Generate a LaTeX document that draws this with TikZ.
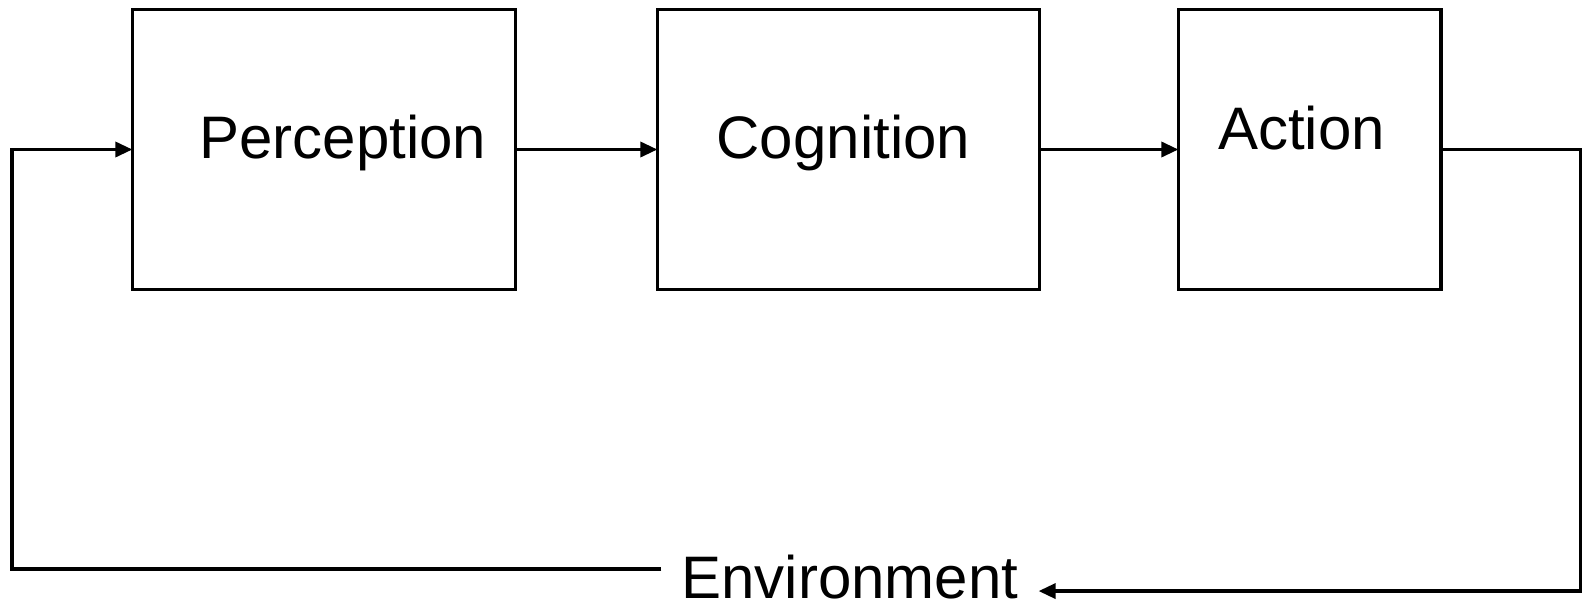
\documentclass[tikz,border=0pt]{standalone}
\usepackage{fontspec}
\setmainfont{Liberation Sans}
\usetikzlibrary{arrows.meta,positioning,calc}
\tikzset{
    block/.style={draw, line width=3.4pt, minimum height=280pt, inner sep=0pt, outer sep=0pt},
    lbl/.style={font=\fontsize{60}{70}\selectfont, inner sep=0pt, anchor=base},
    flow/.style={-{Triangle[length=17pt, width=15pt]}, line width=3.4pt}
}

\begin{document}
\begin{tikzpicture}[x=1pt, y=-1pt, node distance=142pt]
    \useasboundingbox (0,0) rectangle (1582,603);
    \node[block, minimum width=383pt] (per) at (323.9,149.5) {};
    \node[block, minimum width=382pt, right=of per] (cog) {};
    \node[block, minimum width=262.4pt, right=139pt of cog] (act) {};

    \node[lbl] (perT) at ([xshift=19pt, yshift=-8.5pt]per.center) {Perception};
    \node[lbl] (cogT) at ([xshift=-5pt, yshift=-8.5pt]cog.center) {Cognition};
    \node[lbl] (actT) at ([xshift=-8pt]act.center) {Action};
    \node[lbl, inner xsep=20pt] (env) at (850,598.5) {Environment};

    \draw[flow] (per) -- (cog);
    \draw[flow] (cog) -- (act);
    \draw[flow] (act.east) -- ++(139.5,0) |- ([yshift=-14pt]env.east);
    \draw[flow] ([yshift=8pt]env.west) -| ([xshift=-120.5pt]per.west) -- (per.west);
\end{tikzpicture}
\end{document}
